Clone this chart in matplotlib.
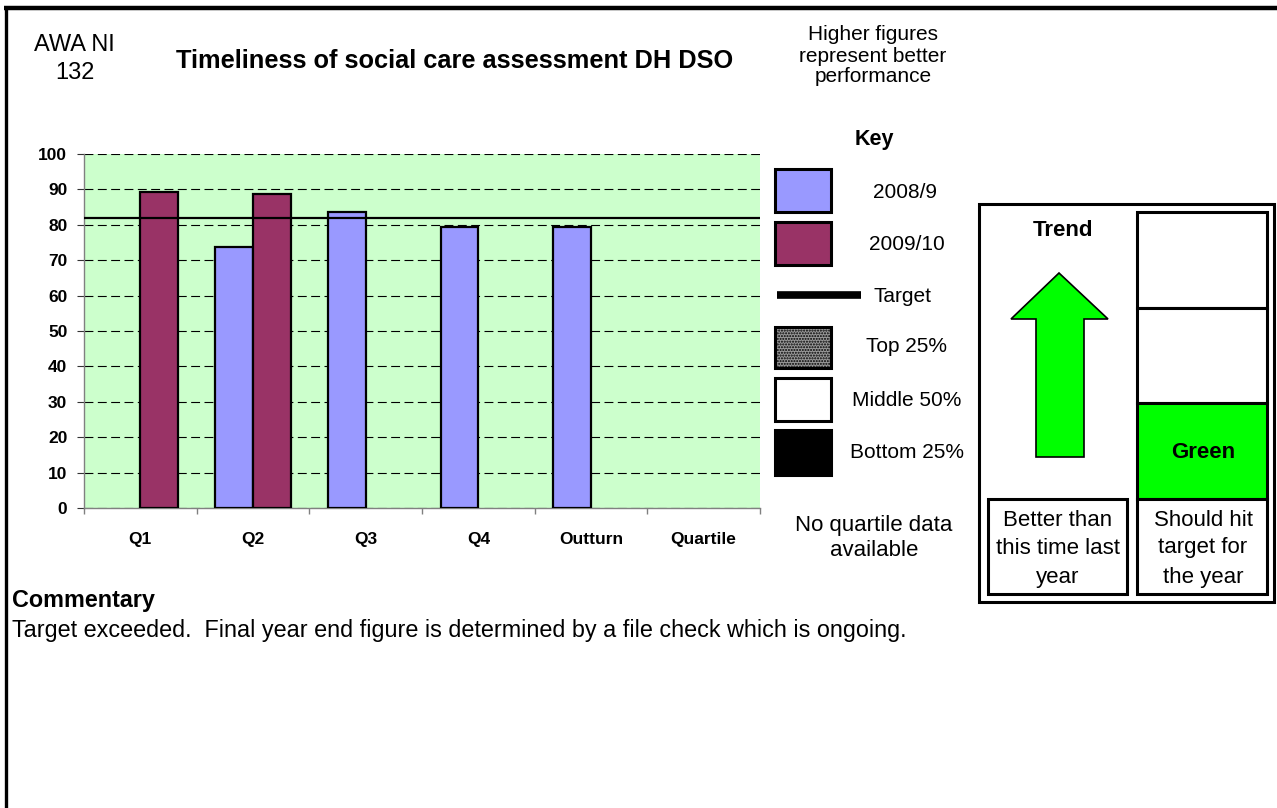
import matplotlib
matplotlib.use("Agg")
import matplotlib.pyplot as plt
from matplotlib.patches import Rectangle, Polygon
import numpy as np

plt.rcParams['font.family'] = ['Liberation Sans', 'DejaVu Sans']

# ---- data -------------------------------------------------------------
categories = ["Q1", "Q2", "Q3", "Q4", "Outturn", "Quartile"]
values_2008_9 = [np.nan, 73.8, 83.7, 79.3, 79.3, np.nan]
values_2009_10 = [89.4, 88.7, np.nan, np.nan, np.nan, np.nan]
target_value = 81.8
y_ticks = [0, 10, 20, 30, 40, 50, 60, 70, 80, 90, 100]

key_labels = ["2008/9", "2009/10", "Target", "Top 25%", "Middle 50%", "Bottom 25%"]

BLUE = "#9999FF"
MAROON = "#993366"
PLOT_BG = "#CCFFCC"
BRIGHT_GREEN = "#00FF00"

W, H = 1277, 808
fig = plt.figure(figsize=(W / 100, H / 100), dpi=100)
fig.patch.set_facecolor("white")


def px_axes(x0, y0, x1, y1):
    return fig.add_axes([x0 / W, 1 - y1 / H, (x1 - x0) / W, (y1 - y0) / H])


# ---- bar chart --------------------------------------------------------
ax = px_axes(84, 154, 760, 508)
ax.set_facecolor(PLOT_BG)
x = np.arange(len(categories))
bw = 1 / 3
ax.bar(x - bw / 2, values_2008_9, bw, color=BLUE, edgecolor="black",
       linewidth=1.6, zorder=3)
ax.bar(x + bw / 2, values_2009_10, bw, color=MAROON, edgecolor="black",
       linewidth=1.6, zorder=3)
ax.axhline(target_value, color="black", linewidth=1.6, zorder=4)

ax.set_xlim(-0.5, len(categories) - 0.5)
ax.set_ylim(0, 100)
ax.set_yticks(y_ticks)
ax.set_yticklabels([str(v) for v in y_ticks], fontsize=12.5, fontweight="bold")
ax.yaxis.grid(True, color="black", linewidth=0.8, linestyle=(0, (8, 4)), zorder=1)
ax.set_axisbelow(True)
ax.tick_params(axis="y", length=5, width=0.8, color="#333333", pad=7)

ax.set_xticks(x)
ax.set_xticklabels(categories, fontsize=12.5, fontweight="bold")
ax.tick_params(axis="x", which="major", length=0, pad=17)
ax.set_xticks(np.arange(-0.5, len(categories)), minor=True)
ax.tick_params(axis="x", which="minor", length=4, width=1, color="#808080")

for side in ("top", "right"):
    ax.spines[side].set_visible(False)
for side in ("left", "bottom"):
    ax.spines[side].set_color("#808080")
    ax.spines[side].set_linewidth(1.0)

# ---- page furniture (pixel coordinates) -------------------------------
ov = fig.add_axes([0, 0, 1, 1])
ov.set_xlim(0, W)
ov.set_ylim(H, 0)
ov.axis("off")
ov.patch.set_alpha(0)

ov.plot([4, W], [8, 8], color="black", linewidth=3.2, solid_capstyle="butt")
ov.plot([6, 6], [6, H], color="black", linewidth=2.4, solid_capstyle="butt")


def txt(x, y, s, size, bold=False, ha="center"):
    ov.text(x, y, s, fontsize=size, fontweight="bold" if bold else "normal",
            ha=ha, va="center", color="black")


txt(74.5, 45, "AWA NI", 17)
txt(74.5, 73, "132", 17)
txt(454.5, 61, "Timeliness of social care assessment DH DSO", 18.3, bold=True)

txt(873, 35, "Higher figures", 15)
txt(873, 56, "represent better", 15)
txt(873, 77, "performance", 15)

# key
txt(874, 140, "Key", 15.5, bold=True)
box_lw = 2.2
ov.add_patch(Rectangle((775, 169), 56, 43, facecolor=BLUE, edgecolor="black", linewidth=box_lw))
ov.add_patch(Rectangle((775, 222), 56, 43, facecolor=MAROON, edgecolor="black", linewidth=box_lw))
ov.plot([777, 861], [295, 295], color="black", linewidth=5.5, solid_capstyle="butt")
ov.add_patch(Rectangle((775, 327), 56, 41, facecolor="#9a9a9a", edgecolor="black",
                       linewidth=box_lw, hatch="......"))
ov.add_patch(Rectangle((775, 378), 56, 43, facecolor="white", edgecolor="black", linewidth=box_lw))
ov.add_patch(Rectangle((775, 430), 56, 45, facecolor="black", edgecolor="black", linewidth=box_lw))

key_y = [193, 244, 297, 347, 400, 452]
key_x = [905, 907, 903, 907, 907, 907]
for lx, ly, lab in zip(key_x, key_y, key_labels):
    txt(lx, ly, lab, 15)

txt(874, 525, "No quartile data", 16)
txt(874, 551, "available", 16)

# trend panel
panel_lw = 2.2
ov.add_patch(Rectangle((979, 204), 295, 398, facecolor="white", edgecolor="black", linewidth=panel_lw))
txt(1063, 231, "Trend", 16, bold=True)
arrow = Polygon([(1059, 273), (1108, 319), (1084, 319), (1084, 457),
                 (1036, 457), (1036, 319), (1011, 319)], closed=True,
                facecolor=BRIGHT_GREEN, edgecolor="black", linewidth=1.2)
ov.add_patch(arrow)

ov.add_patch(Rectangle((1137, 212), 130, 96, facecolor="white", edgecolor="black", linewidth=panel_lw))
ov.add_patch(Rectangle((1137, 308), 130, 95, facecolor="white", edgecolor="black", linewidth=panel_lw))
ov.add_patch(Rectangle((1137, 403), 130, 96, facecolor=BRIGHT_GREEN, edgecolor="black", linewidth=panel_lw))
txt(1203, 452, "Green", 16, bold=True)
ov.add_patch(Rectangle((1137, 499), 130, 95, facecolor="white", edgecolor="black", linewidth=panel_lw))
ov.add_patch(Rectangle((988, 499), 139, 95, facecolor="white", edgecolor="black", linewidth=panel_lw))

for ly, s in zip([520, 548, 577], ["Better than", "this time last", "year"]):
    txt(1058, ly, s, 16)
for ly, s in zip([520, 548, 577], ["Should hit", "target for", "the year"]):
    txt(1203, ly, s, 16)

# commentary
txt(12, 601, "Commentary", 16.8, bold=True, ha="left")
txt(12, 631, "Target exceeded.  Final year end figure is determined by a file check which is ongoing.",
    16.8, ha="left")

fig.savefig("out.png", dpi=100)
